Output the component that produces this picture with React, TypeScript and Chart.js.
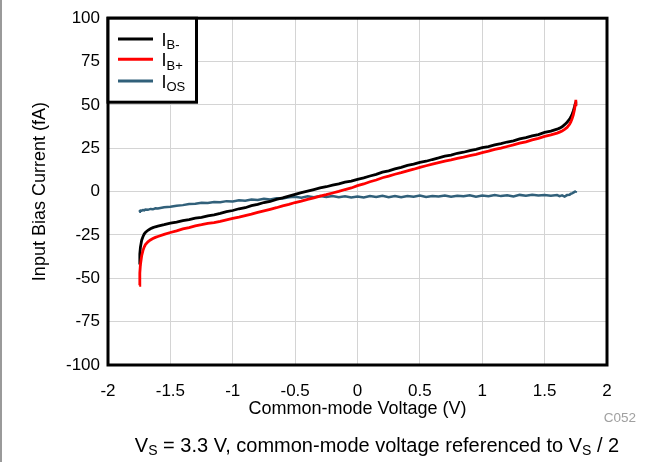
import React, { useEffect, useRef } from "react";
import { Chart, registerables } from "chart.js";

Chart.register(...registerables);

// ---- data ----
const X_VALUES = [
  -1.75, -1.745, -1.74, -1.73, -1.72, -1.71, -1.7, -1.68, -1.66, -1.64, -1.62, -1.6,
  -1.55, -1.5, -1.45, -1.4, -1.35, -1.3, -1.25, -1.2, -1.15, -1.1, -1.05, -1.0,
  -0.95, -0.9, -0.85, -0.8, -0.75, -0.7, -0.65, -0.6, -0.55, -0.5, -0.45, -0.4,
  -0.35, -0.3, -0.25, -0.2, -0.15, -0.1, -0.05, 0.0, 0.05, 0.1, 0.15, 0.2,
  0.25, 0.3, 0.35, 0.4, 0.45, 0.5, 0.55, 0.6, 0.65, 0.7, 0.75, 0.8,
  0.85, 0.9, 0.95, 1.0, 1.05, 1.1, 1.15, 1.2, 1.25, 1.3, 1.35, 1.4,
  1.45, 1.5, 1.55, 1.6, 1.62, 1.64, 1.66, 1.68, 1.7, 1.71, 1.72, 1.73,
  1.74, 1.745, 1.75,
];

const I_B_MINUS = [
  -42, -36, -32, -28, -26, -24.5, -23.5, -22.3, -21.4, -20.8, -20.3, -19.9,
  -19.1, -18.2, -17.6, -16.7, -16.1, -15.3, -14.9, -14.0, -13.4, -12.6, -11.6, -10.9,
  -9.9, -9.3, -8.1, -7.4, -6.3, -5.7, -4.5, -3.6, -2.6, -1.6, -0.6, 0.3,
  1.2, 2.1, 2.8, 3.7, 4.4, 5.4, 6.1, 7.1, 7.9, 9.0, 9.9, 11.2,
  12.0, 13.1, 14.0, 15.1, 15.8, 16.9, 17.5, 18.5, 19.4, 20.4, 21.0, 22.1,
  22.7, 23.6, 24.3, 25.3, 25.9, 26.9, 27.7, 28.6, 29.3, 30.4, 31.1, 32.1,
  32.9, 34.1, 34.9, 36.0, 36.6, 37.4, 38.6, 40.0, 41.8, 43.0, 44.6, 46.5,
  49.0, 50.5, 52.0,
];

const I_B_PLUS = [
  -54, -47, -42, -37, -34, -32, -30.6, -29, -27.9, -27.1, -26.4, -25.9,
  -24.7, -23.6, -22.6, -21.5, -20.8, -19.8, -19.1, -18.3, -17.9, -17.2, -16.3, -15.5,
  -14.7, -13.8, -13.0, -12.0, -11.1, -10.2, -9.3, -8.2, -7.4, -6.3, -5.5, -4.5,
  -3.6, -2.6, -1.8, -0.8, 0.1, 1.2, 2.1, 3.4, 4.4, 5.7, 6.7, 8.0,
  8.9, 10.0, 10.9, 12.0, 12.9, 14.0, 14.9, 15.8, 16.7, 17.6, 18.3, 19.2,
  19.9, 20.8, 21.5, 22.5, 23.3, 24.3, 25.1, 26.0, 26.9, 27.9, 28.7, 29.8,
  30.7, 31.8, 32.7, 33.7, 34.3, 35.0, 35.9, 37.0, 38.8, 40.2, 42.0, 44.3,
  47.5, 50.0, 53.0,
];

const I_OS = [
  -11.6, -11.2, -10.9, -11.0, -10.6, -10.8, -10.3, -10.5, -10.0, -10.2, -9.6, -9.8,
  -9.0, -8.7, -8.1, -7.8, -7.2, -7.0, -6.5, -6.6, -6.0, -6.2, -5.5, -5.7,
  -5.0, -5.3, -4.6, -4.9, -4.2, -4.5, -3.8, -4.0, -3.3, -3.0, -3.5, -2.7,
  -3.2, -2.6, -3.1, -2.5, -3.3, -2.7, -3.4, -2.8, -3.4, -2.6, -3.1, -2.4,
  -3.2, -2.6, -3.3, -2.5, -3.0, -2.3, -3.1, -2.6, -2.8, -2.2, -3.0, -2.4,
  -2.7, -2.1, -2.9, -2.3, -2.7, -2.0, -2.6, -2.1, -2.8, -1.9, -2.4, -1.8,
  -2.3, -1.9, -2.4, -2.0, -2.6, -2.2, -2.9, -2.0, -1.8, -1.2, -1.0, -0.6,
  -0.2, 0.1, 0.3,
];

const SERIES_LABELS = ["IB-", "IB+", "IOS"];
const LEGEND_MAIN = ["I", "I", "I"];
const LEGEND_SUB = ["B-", "B+", "OS"];
const X_TITLE = "Common-mode Voltage (V)";
const Y_TITLE = "Input Bias Current (fA)";
const FIGURE_ID = "C052";
const CAPTION_PARTS = [
  { text: "V", sub: false },
  { text: "S", sub: true },
  { text: " = 3.3 V, common-mode voltage referenced to V", sub: false },
  { text: "S", sub: true },
  { text: " / 2", sub: false },
];

const FONT = "'Liberation Sans', Arial, Helvetica, sans-serif";
const COLORS = ["#000000", "#ff0000", "#31607a"];

const fmt = (v: any) => String(Math.round(Number(v) * 100) / 100);

const decorPlugin = {
  id: "decor",
  afterDraw(chart: any) {
    const { ctx, chartArea } = chart;
    const { left, top, right, bottom } = chartArea;
    ctx.save();

    // plot frame
    ctx.strokeStyle = "#000";
    ctx.lineWidth = 3;
    ctx.strokeRect(left, top, right - left, bottom - top);

    // legend box
    const lw = 88.5;
    const lh = 84;
    ctx.fillStyle = "#fff";
    ctx.fillRect(left, top, lw, lh);
    ctx.strokeRect(left, top, lw, lh);

    const baselines = [27.4, 47.7, 69.4];
    chart.data.datasets.forEach((ds: any, i: number) => {
      const by = top + baselines[i];
      ctx.strokeStyle = ds.borderColor;
      ctx.lineWidth = 3;
      ctx.beginPath();
      ctx.moveTo(left + 10, by - 6.7);
      ctx.lineTo(left + 45, by - 6.7);
      ctx.stroke();
      ctx.fillStyle = "#000";
      ctx.textAlign = "left";
      ctx.textBaseline = "alphabetic";
      ctx.font = `18px ${FONT}`;
      const tx = left + 53.5;
      ctx.fillText(LEGEND_MAIN[i], tx, by);
      const w = ctx.measureText(LEGEND_MAIN[i]).width;
      ctx.font = `13px ${FONT}`;
      ctx.fillText(LEGEND_SUB[i], tx + w, by + 3.6);
    });

    // figure id
    ctx.fillStyle = "#a0a0a0";
    ctx.font = `13.5px ${FONT}`;
    ctx.textAlign = "right";
    ctx.fillText(FIGURE_ID, 636, 421.5);

    // caption
    ctx.fillStyle = "#000";
    ctx.textAlign = "left";
    let total = 0;
    const widths = CAPTION_PARTS.map((p) => {
      ctx.font = `${p.sub ? 14 : 20}px ${FONT}`;
      const w = ctx.measureText(p.text).width;
      total += w;
      return w;
    });
    let cx = 377 - total / 2;
    CAPTION_PARTS.forEach((p, i) => {
      ctx.font = `${p.sub ? 14 : 20}px ${FONT}`;
      ctx.fillText(p.text, cx, p.sub ? 454.5 : 451.5);
      cx += widths[i];
    });

    ctx.restore();
  },
};

export default function App() {
  const canvasRef = useRef<HTMLCanvasElement | null>(null);

  useEffect(() => {
    const canvas = canvasRef.current;
    if (!canvas) return;
    const series = [I_B_MINUS, I_B_PLUS, I_OS];
    const orders = [1, 0, 2];
    const chart = new Chart(canvas, {
      type: "line",
      data: {
        datasets: series.map((ys, i) => ({
          label: SERIES_LABELS[i],
          data: X_VALUES.map((x, k) => ({ x, y: ys[k] })),
          borderColor: COLORS[i],
          backgroundColor: COLORS[i],
          borderWidth: i === 2 ? 2.5 : 2.8,
          pointRadius: 0,
          tension: 0,
          fill: false,
          order: orders[i],
        })),
      },
      options: {
        animation: false,
        responsive: false,
        maintainAspectRatio: false,
        layout: { padding: { left: 0, right: 57, top: 13.3, bottom: 42.2 } },
        plugins: {
          legend: { display: false },
          tooltip: { enabled: false },
          title: { display: false },
        },
        scales: {
          x: {
            type: "linear",
            min: -2,
            max: 2,
            ticks: {
              stepSize: 0.5,
              color: "#000",
              font: { family: FONT, size: 17 },
              padding: 16,
              maxRotation: 0,
              autoSkip: false,
              callback: (v: any) => fmt(v),
            },
            grid: { color: "#d4d4d4", lineWidth: 1, drawTicks: false },
            border: { display: false },
            title: {
              display: true,
              text: X_TITLE,
              color: "#000",
              font: { family: FONT, size: 18 },
              padding: { top: 0, bottom: 0 },
            },
            afterFit: (s: any) => {
              s.height = 54.8;
            },
          },
          y: {
            type: "linear",
            min: -100,
            max: 100,
            ticks: {
              stepSize: 25,
              color: "#000",
              font: { family: FONT, size: 17 },
              padding: 8,
              autoSkip: false,
              callback: (v: any) => fmt(v),
            },
            grid: { color: "#d4d4d4", lineWidth: 1, drawTicks: false },
            border: { display: false },
            title: {
              display: true,
              text: Y_TITLE,
              color: "#000",
              font: { family: FONT, size: 18 },
              padding: { top: 29.6, bottom: 0 },
            },
            afterFit: (s: any) => {
              s.width = 108;
            },
          },
        },
      },
      plugins: [decorPlugin],
    } as any);
    return () => chart.destroy();
  }, []);

  return (
    <div
      style={{
        position: "fixed",
        left: 0,
        top: 0,
        width: 664,
        height: 462,
        background: "#fff",
        overflow: "hidden",
      }}
    >
      <canvas
        ref={canvasRef}
        width={664}
        height={462}
        style={{ position: "absolute", left: 0, top: 0, width: 664, height: 462 }}
      />
      <div
        style={{
          position: "absolute",
          left: 0,
          top: 0,
          width: 2,
          height: 462,
          background: "#9a9a9a",
        }}
      />
    </div>
  );
}
